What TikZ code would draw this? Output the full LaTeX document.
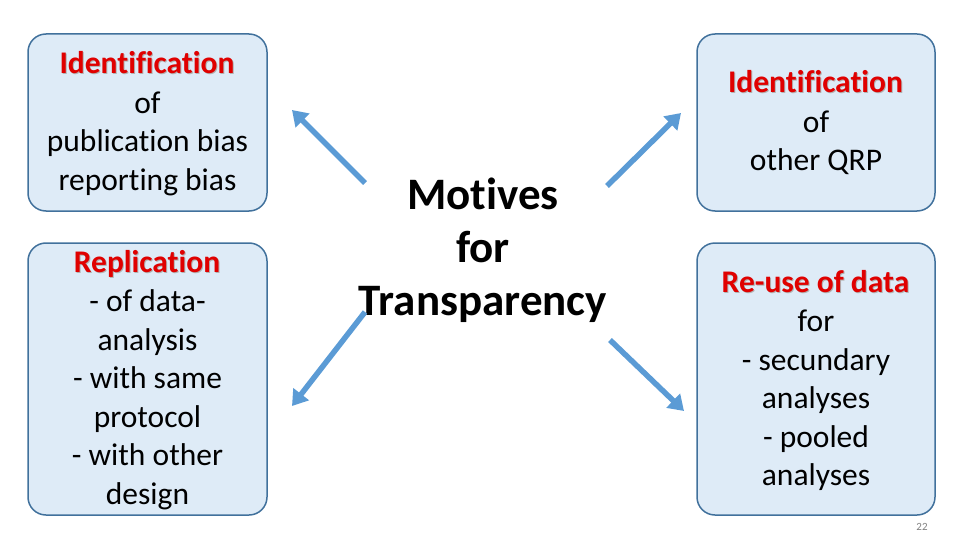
\documentclass[tikz,border=0pt]{standalone}
\usepackage{fontspec}
\setmainfont{Carlito}[Ligatures={NoCommon}]
\usetikzlibrary{arrows.meta}
\definecolor{boxfill}{HTML}{DEEBF7}
\definecolor{boxline}{HTML}{41719C}
\definecolor{arr}{HTML}{5B9BD5}
\definecolor{redt}{HTML}{E00000}
\begin{document}
\begin{tikzpicture}[x=1pt,y=-1pt,
  box/.style={draw=boxline,line width=1.5pt,fill=boxfill,rounded corners=18pt},
  txt/.style={align=center,font=\fontsize{31.5}{38.5}\selectfont},
  arrow/.style={draw=arr,line width=5.5pt,-{Triangle[length=15pt,width=19pt]}}]
\useasboundingbox (0,0) rectangle (960,540);
\newcommand{\hl}[1]{\tikz[baseline=(q.base)]{\node[inner sep=0,text=gray!60,xshift=1pt,yshift=-1pt](q){\bfseries #1};\node[inner sep=0,text=redt] at (q.center) [xshift=-1pt,yshift=1pt]{\bfseries #1};}}
\draw[box] (28,34) rectangle (267,211);
\draw[box] (28,243) rectangle (267,515);
\draw[box] (697,34) rectangle (935,211);
\draw[box] (697,243) rectangle (935,515);
\node[txt] (lt) at (147.5,123.5) {\hl{Identification}\\of\\publication bias\\reporting bias};
\node[txt] (lb) at (147.5,380) {\hl{Replication}\\- of data-\\analysis\\- with same\\protocol\\- with other\\design};
\node[txt] (rt) at (816,123) {\hl{Identification}\\of\\other QRP};
\node[txt] (rb) at (816,380.5) {\hl{Re-use of data}\\for\\- secundary\\analyses\\- pooled\\analyses};
\node[align=center,font=\fontsize{45}{53}\selectfont\bfseries] (c) at (483,250) {Motives\\for\\Transparency};
\coordinate (a1s) at (365,183); \coordinate (a1e) at (292,110);
\coordinate (a2s) at (365,312); \coordinate (a2e) at (292,406);
\coordinate (a3s) at (607,186); \coordinate (a3e) at (681,113);
\coordinate (a4s) at (610,340); \coordinate (a4e) at (684,411);
\draw[arrow] (a1s) -- (a1e);
\draw[arrow] (a2s) -- (a2e);
\draw[arrow] (a3s) -- (a3e);
\draw[arrow] (a4s) -- (a4e);
\node[font=\fontsize{11}{13}\selectfont,text=gray] (pg) at (922,527) {22};
\end{tikzpicture}
\end{document}
